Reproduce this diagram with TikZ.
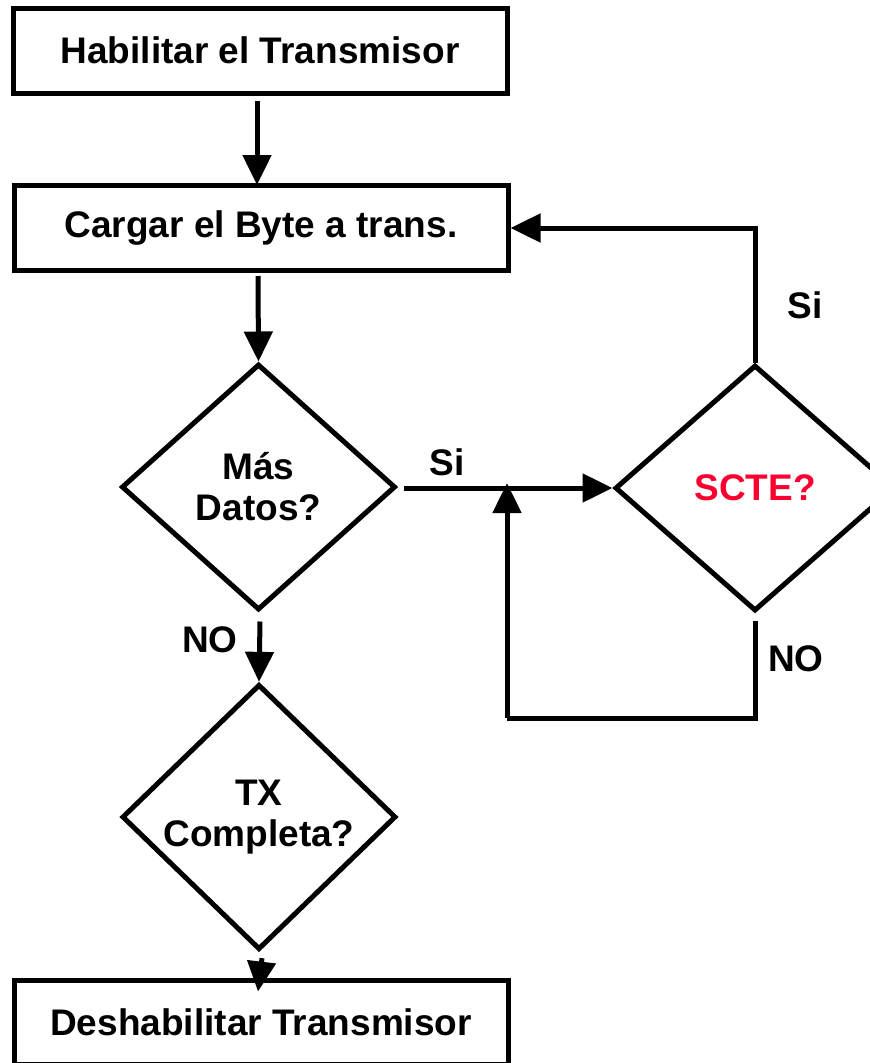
\documentclass[tikz,border=0pt]{standalone}
\usepackage{fontspec}
\setmainfont{Liberation Sans}
\usetikzlibrary{arrows.meta,shapes.geometric}
\definecolor{scred}{RGB}{250,0,48}
\begin{document}
\begin{tikzpicture}[x=1pt,y=-1pt,
  every node/.style={font=\bfseries\fontsize{37}{41}\selectfont, inner sep=0pt, align=center},
  box/.style={draw, line width=5pt, minimum width=494pt, minimum height=85pt},
  dia/.style={draw, diamond, line width=5pt, minimum width=274pt, minimum height=246pt},
  arr/.style={line width=5pt, -{Triangle[length=30pt,width=28pt]}},
  conn/.style={line width=5pt}]
\useasboundingbox (0,0) rectangle (870,1063);
\clip (0,0) rectangle (870,1063);
\node[box] (b1) at (260,50.5) {Habilitar el Transmisor};
\node[box] (b2) at (261,228) {Cargar el Byte a trans.};
\node[dia] (d1) at (258.5,487) {Más\\Datos?};
\node[dia, minimum width=280pt] (d2) at (755,488) {\textcolor{scred}{SCTE?}};
\node[dia] (d3) at (259,817) {TX\\Completa?};
\node[box, minimum height=84pt] (b3) at (261,1022) {Deshabilitar Transmisor};
\coordinate (lp) at (507,718);
\coordinate (jn) at (507,483);
\draw[arr] ([yshift=-5pt]b1.south -| 257,0) -- ([yshift=-2pt]b2.north -| 257,0);
\draw[arr] ([yshift=-3pt]b2.south -| 258,0) -- (d1.north);
\draw[arr] ([xshift=6pt]d1.east |- d2.west) -- (d2.west);
\draw[arr] (d2.north) |- (b2.east);
\draw[conn] ([yshift=-7pt]d2.south) |- (lp);
\draw[arr] (lp) -- (jn);
\draw[arr] ([yshift=-9pt]d1.south -| 260,0) -- (d3.north);
\draw[arr] ([yshift=-6pt]d3.south -| 262,0) -- ([yshift=-14pt]b3.north -| 258,0);
\node (lsi1) at (805,305) {Si};
\node (lsi2) at (447,462) {Si};
\node (lno1) at (210,640) {NO};
\node (lno2) at (796,659) {NO};
\end{tikzpicture}
\end{document}
